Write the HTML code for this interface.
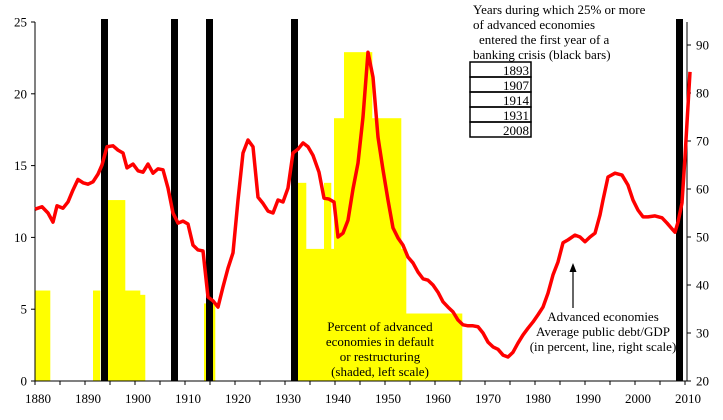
<!DOCTYPE html>
<html><head><meta charset="utf-8"><style>
html,body{margin:0;padding:0;background:#fff;}
svg{display:block;font-family:"Liberation Serif",serif;}
</style></head><body>
<svg width="723" height="420" viewBox="0 0 723 420">
<g id="yellow"></g>
<g id="black"></g>
<g id="axes"></g>
<g id="line"></g>
<g font-size="13" fill="#000">
<text x="473" y="14">Years during which 25% or more</text>
<text x="473" y="29">of advanced economies</text>
<text x="479" y="44">entered the first year of a</text>
<text x="473" y="59">banking crisis (black bars)</text>
<g id="tbl"></g>
</g>
<g font-size="13" text-anchor="middle">
<text x="380" y="331">Percent of advanced</text>
<text x="380" y="346">economies in default</text>
<text x="380" y="361">or restructuring</text>
<text x="380" y="376">(shaded, left scale)</text>
</g>
<g font-size="13" text-anchor="middle">
<text x="603" y="321">Advanced economies</text>
<text x="603" y="336">Average public debt/GDP</text>
<text x="603" y="351">(in percent, line, right scale)</text>
<line x1="573" y1="308" x2="573" y2="270" stroke="#000" stroke-width="1.2"/>
<polygon points="573,263 569.5,272 576.5,272" fill="#000"/>
</g>
</svg>
<script>
const crisisYears=[1893,1907,1914,1931,2008];
const defaultStart=[1880,1891.6,1894.6,1898,1901,1913.8,1932.6,1934.2,1937.8,1939.2,1939.8,1941.8,1947.4,1953.2,1954.2];
const defaultEnd=[1883,1893,1898,1901,1902,1916,1934.2,1937.8,1939.2,1939.8,1941.8,1947.4,1953.2,1954.2,1965.4];
const defaultPct=[6.3,6.3,12.6,6.3,6.0,5.4,13.8,9.2,13.8,9.2,18.3,22.9,18.3,9.2,4.7];
const debtYears=[1880,1881.4,1882.6,1883.6,1884.4,1885.6,1886.6,1887.6,1888.6,1889.6,1890.6,1891.6,1892.6,1893.4,1894.4,1895.6,1896.6,1897.6,1898.4,1899.6,1900.6,1901.6,1902.6,1903.6,1904.6,1905.6,1906.6,1907.6,1908.6,1909.6,1910.6,1911.6,1912.6,1913.6,1914.6,1915.6,1916.6,1917.6,1918.6,1919.6,1920.6,1921.6,1922.6,1923.6,1924.6,1925.6,1926.6,1927.6,1928.6,1929.6,1930.6,1931.6,1932.6,1933.6,1934.6,1935.6,1936.8,1937.8,1938.8,1939.8,1940.6,1941.6,1942.6,1943.6,1944.6,1945.6,1946.6,1947.6,1948.6,1949.6,1950.6,1951.6,1952.6,1953.6,1954.6,1955.6,1956.6,1957.6,1958.6,1959.6,1960.6,1961.6,1962.6,1963.6,1964.6,1965.6,1966.6,1967.6,1968.6,1969.6,1970.6,1971.6,1972.6,1973.6,1974.6,1975.6,1976.6,1977.6,1978.6,1979.6,1980.6,1981.6,1982.6,1983.6,1984.6,1985.6,1986.6,1988,1989,1990,1991,1992,1993,1993.6,1994.6,1996,1997.4,1998.6,1999.6,2000.6,2001.6,2002.6,2004,2005.4,2006.4,2007.4,2008,2008.6,2009.4,2010,2011];
const debtValues=[55.8,56.3,55,53.1,56.5,56,57.3,59.8,62,61.3,61,61.5,63.1,65,68.8,69,68.1,67.5,64.4,65.2,63.8,63.5,65.2,63.3,64.2,64,60.2,55,52.9,53.3,52.7,48.3,47.3,47.1,37.5,36.7,35.4,39.6,43.5,46.7,57.7,67.5,70.2,68.8,58.3,57,55.4,55,57.7,57.3,60.2,67.5,68.3,69.6,68.8,67,63.5,58.1,57.9,57.3,50,50.8,53.5,60,65.4,75,88.5,83.3,70.8,64,57.7,51.9,49.8,48.3,45.8,44.6,42.7,41.3,41,40,38.5,36.5,35.4,34.4,32.7,31.7,31.5,31.5,31.3,30,28.1,27.1,26.6,25.4,25,26,27.9,29.6,31,32.3,33.8,35.4,38.3,42.1,44.8,48.8,49.4,50.4,50,49,50,50.8,54.6,57.7,62.5,63.3,62.9,60.8,57.7,55.6,54.2,54.2,54.4,54,52.9,51.7,51,53.1,57.1,66.7,84.4];
const leftTicks=[0,5,10,15,20,25];
const rightTicks=[20,30,40,50,60,70,80,90];
const xTicks=[1880,1890,1900,1910,1920,1930,1940,1950,1960,1970,1980,1990,2000,2010];

const NS="http://www.w3.org/2000/svg";
const X=y=>35+5*(y-1880);
const YL=v=>381-14.36*v;
const YR=v=>381-4.8*(v-20);
function mk(tag,attrs,parent){const e=document.createElementNS(NS,tag);for(const k in attrs)e.setAttribute(k,attrs[k]);parent.appendChild(e);return e;}

const gy=document.getElementById('yellow');
defaultPct.forEach((v,i)=>{
  const r=mk('rect',{x:X(defaultStart[i]),y:YL(v),width:X(defaultEnd[i])-X(defaultStart[i])+0.3,height:381-YL(v),fill:'#ffff00'},gy);
  
  
});
const gb=document.getElementById('black');
crisisYears.forEach(y=>{
  const r=mk('rect',{x:X(y)+1,y:19,width:7,height:362,fill:'#000'},gb);
  
  
});
const ga=document.getElementById('axes');
mk('line',{x1:35,y1:22,x2:35,y2:381,stroke:'#000','stroke-width':1},ga);
mk('line',{x1:687,y1:22,x2:687,y2:381,stroke:'#000','stroke-width':1},ga);
mk('line',{x1:35,y1:381,x2:687,y2:381,stroke:'#000','stroke-width':1},ga);
leftTicks.forEach(v=>{
  mk('line',{x1:31,y1:YL(v),x2:35,y2:YL(v),stroke:'#000'},ga);
  const t=mk('text',{x:27,y:YL(v)+4.5,'text-anchor':'end','font-size':13},ga);t.textContent=v;
  
  
});
rightTicks.forEach(v=>{
  mk('line',{x1:687,y1:YR(v),x2:691,y2:YR(v),stroke:'#000'},ga);
  const t=mk('text',{x:696,y:YR(v)+4.5,'font-size':13},ga);t.textContent=v;
  
  
});
for(let y=1880;y<=2010;y+=5){mk('line',{x1:X(y),y1:381,x2:X(y),y2:385,stroke:'#000'},ga);}
xTicks.forEach(y=>{
  const t=mk('text',{x:X(y)+3,y:403,'text-anchor':'middle','font-size':13},ga);t.textContent=y;
  
  
});
const gl=document.getElementById('line');
const p=mk('polyline',{points:debtYears.map((y,i)=>X(y)+','+YR(debtValues[i])).join(' '),fill:'none',stroke:'#ff0000','stroke-width':3.5,'stroke-linejoin':'round'},gl);


const gt=document.getElementById('tbl');
crisisYears.forEach((y,i)=>{
  const top=62+15*i;
  mk('rect',{x:470,y:top,width:61,height:15,fill:'none',stroke:'#000','stroke-width':1.5},gt);
  const t=mk('text',{x:529,y:top+13,'text-anchor':'end','font-size':13},gt);t.textContent=y;
  
  
});
</script>
</body></html>
